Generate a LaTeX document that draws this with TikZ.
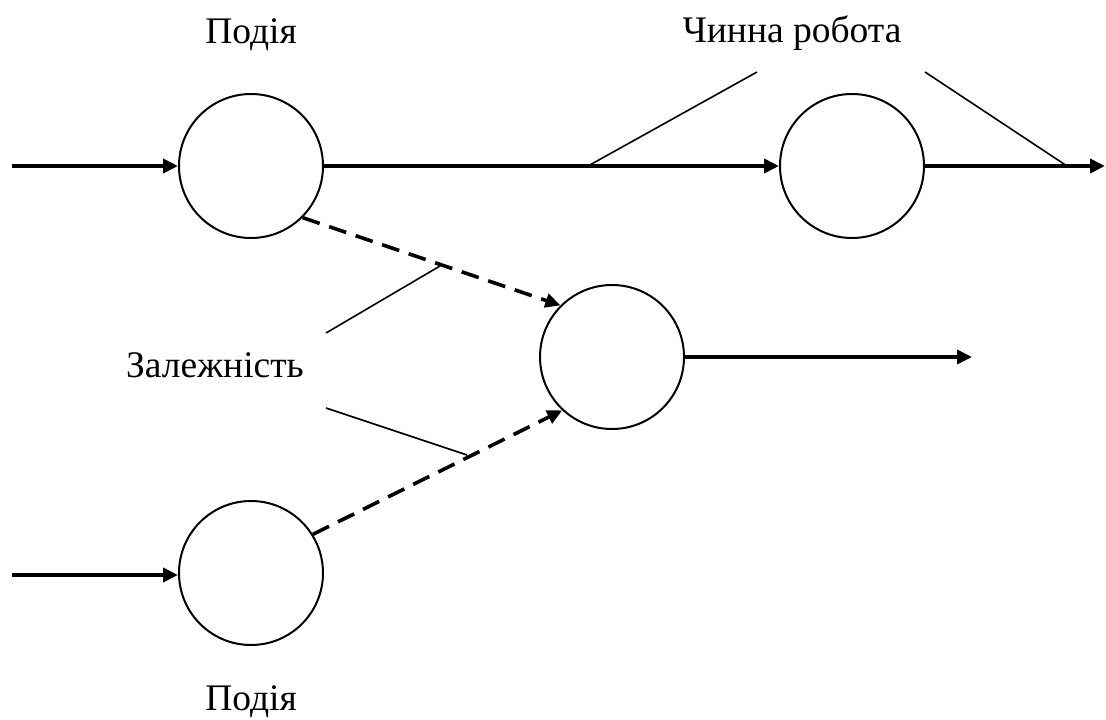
\documentclass[tikz,border=0pt]{standalone}
\usepackage{fontspec}
\setmainfont{Liberation Serif}
\usetikzlibrary{arrows.meta}
\begin{document}
\begin{tikzpicture}[x=1pt,y=-1pt,
  event/.style={draw,circle,line width=2pt,minimum size=144pt,inner sep=0pt},
  work/.style={line width=3.6pt,-{Triangle[length=15pt,width=14pt]}},
  dep/.style={line width=3.6pt,dash pattern=on 18pt off 10pt,-{Triangle[length=15pt,width=14pt]}},
  pointer/.style={line width=1.6pt},
  lbl/.style={font=\fontsize{37.5}{42}\selectfont,anchor=base,inner sep=0pt}]
\useasboundingbox (0,0) rectangle (1106,720);
\node[event] (A) at (251,166) {};
\node[event] (B) at (852,166) {};
\node[event] (C) at (612,357) {};
\node[event] (D) at (251,573) {};
\coordinate (inA) at (12,166);
\coordinate (outB) at (1105,166);
\coordinate (outC) at (972,357);
\coordinate (inD) at (12,575);
\draw[work] (inA) -- (A.west);
\draw[work] (A.east) -- (B.west);
\draw[work] (B.east) -- (outB);
\draw[work] (C.east) -- (outC);
\draw[work] (inD) -- (D.west|-inD);
\draw[dep] (A.-45) -- (C.135);
\draw[dep] (D.32) -- (C.-133);
\node[lbl] (ev1) at (251,43) {Подія};
\node[lbl] (work1) at (792,42) {Чинна робота};
\node[lbl] (dep1) at (215,377) {Залежність};
\node[lbl] (ev2) at (251,710) {Подія};
\coordinate (w1a) at (757,72);
\coordinate (w1b) at (588,166);
\coordinate (w2a) at (925,72);
\coordinate (w2b) at (1067,166);
\coordinate (d1a) at (326,333);
\coordinate (d1b) at (440,266);
\coordinate (d2a) at (326,408);
\coordinate (d2b) at (467,455);
\draw[pointer] (w1a) -- (w1b);
\draw[pointer] (w2a) -- (w2b);
\draw[pointer] (d1a) -- (d1b);
\draw[pointer] (d2a) -- (d2b);
\end{tikzpicture}
\end{document}
